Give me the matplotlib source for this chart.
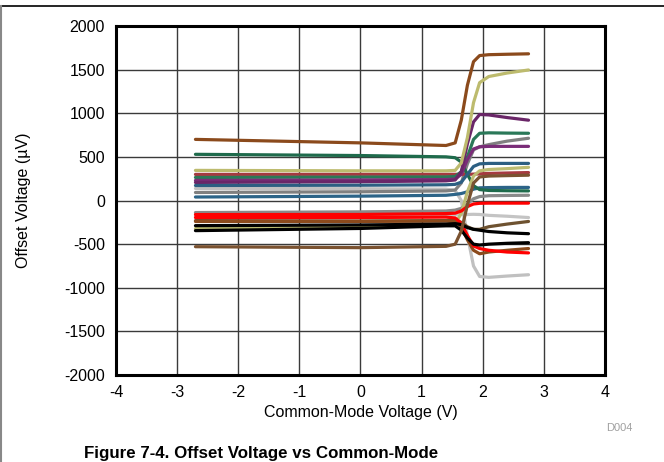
import numpy as np
import matplotlib.pyplot as plt
from matplotlib.lines import Line2D

plt.rcParams['font.family'] = ['Liberation Sans', 'DejaVu Sans']
plt.rcParams['axes.unicode_minus'] = False

# common-mode voltage sample points (V)
vcm = [-2.7, 0.0, 1.4, 1.55, 1.65, 1.75, 1.85, 1.95, 2.1, 2.4, 2.75]

# offset voltage per unit (uV)
brown_hi  = [700, 660, 630, 660, 920, 1320, 1590, 1660, 1670, 1675, 1680]
khaki_hi  = [345, 340, 340, 345, 430, 720, 1120, 1350, 1420, 1460, 1495]
green_dn  = [529, 515, 500, 490, 440, 300, 170, 125, 115, 112, 110]
redbr     = [299, 300, 300, 300, 300, 300, 302, 305, 310, 315, 320]
green_up  = [264, 268, 270, 275, 330, 500, 700, 770, 775, 772, 770]
purple_hi = [207, 215, 225, 235, 330, 650, 900, 985, 980, 950, 920]
blue_up   = [172, 175, 180, 185, 210, 300, 390, 420, 425, 425, 425]
lgray_dn  = [138, 135, 130, 115, 0, -400, -750, -870, -880, -865, -850]
gray_up   = [92, 100, 110, 120, 200, 420, 580, 615, 640, 680, 713]
purple_lo = [230, 235, 240, 245, 300, 470, 590, 615, 620, 620, 620]
blue_lo   = [40, 50, 60, 70, 80, 100, 130, 145, 148, 150, 150]
gray_lo   = [-138, -130, -120, -110, -90, -40, 20, 45, 55, 58, 60]
red_up    = [-161, -160, -150, -145, -120, -70, -40, -32, -30, -30, -30]
red_dn    = [-195, -195, -190, -200, -260, -400, -520, -550, -570, -590, -600]
olive     = [-230, -235, -230, -230, -250, -300, -330, -330, -300, -270, -240]
black_a   = [-288, -280, -270, -265, -275, -310, -330, -340, -355, -370, -380]
khaki_up  = [-322, -300, -280, -260, -150, 100, 280, 340, 355, 365, 380]
black_b   = [-345, -320, -290, -290, -340, -430, -500, -510, -500, -490, -483]
brown_up  = [-529, -540, -525, -500, -350, -50, 200, 270, 280, 285, 290]
lgray_mid = [-180, -175, -170, -165, -160, -160, -158, -160, -170, -180, -195]
brown_dn  = [-240, -240, -235, -240, -300, -450, -570, -610, -590, -570, -550]

curves = [
    (lgray_mid, '#c4c4c4'), (lgray_dn, '#c0c0c0'), (blue_lo, '#2c6488'),
    (gray_lo, '#8a8a8a'), (gray_up, '#808080'), (redbr, '#a53a40'),
    (green_dn, '#1f6b4c'), (green_up, '#2a7858'), (purple_lo, '#7a2d78'),
    (purple_hi, '#6a2668'), (blue_up, '#2c5f82'), (khaki_up, '#bcbc72'),
    (khaki_hi, '#bdbb6e'), (olive, '#6e5230'), (brown_dn, '#8b4a1c'),
    (red_up, '#ff0000'), (red_dn, '#ff0000'), (black_a, '#000000'),
    (black_b, '#000000'), (brown_up, '#7a5230'), (brown_hi, '#8b4a1c'),
]

fig = plt.figure(figsize=(6.64, 4.62), dpi=100)
ax = fig.add_axes([0.1747, 0.188, 0.7363, 0.756])

for vals, col in curves:
    ax.plot(vcm, vals, color=col, lw=2.3, solid_capstyle='round',
            solid_joinstyle='round')

ax.set_xlim(-4, 4)
ax.set_ylim(-2000, 2000)
ax.set_xticks(np.arange(-4, 5, 1))
ax.set_yticks(np.arange(-2000, 2001, 500))
ax.grid(True, color='#3a3a3a', lw=1.0)
ax.set_axisbelow(True)
ax.tick_params(length=0, labelsize=11.5)
ax.tick_params(axis='x', pad=7)
ax.tick_params(axis='y', pad=8)
for s in ax.spines.values():
    s.set_linewidth(2.2)
ax.set_xlabel('Common-Mode Voltage (V)', fontsize=11.5, labelpad=4)
ax.set_ylabel('Offset Voltage (µV)', fontsize=11.5, labelpad=24)

fig.text(0.933, 0.068, 'D004', fontsize=8, color='#a0a0a0', ha='center')
fig.text(0.393, 0.008, 'Figure 7-4. Offset Voltage vs Common-Mode',
         fontsize=12.2, fontweight='bold', ha='center')

# page frame lines
fig.add_artist(Line2D([0, 1], [0.987, 0.987], color='black', lw=1.2,
                      transform=fig.transFigure))
fig.add_artist(Line2D([0.002, 0.002], [0, 0.987], color='#888888', lw=1.5,
                      transform=fig.transFigure))

fig.savefig('out.png', dpi=100)
